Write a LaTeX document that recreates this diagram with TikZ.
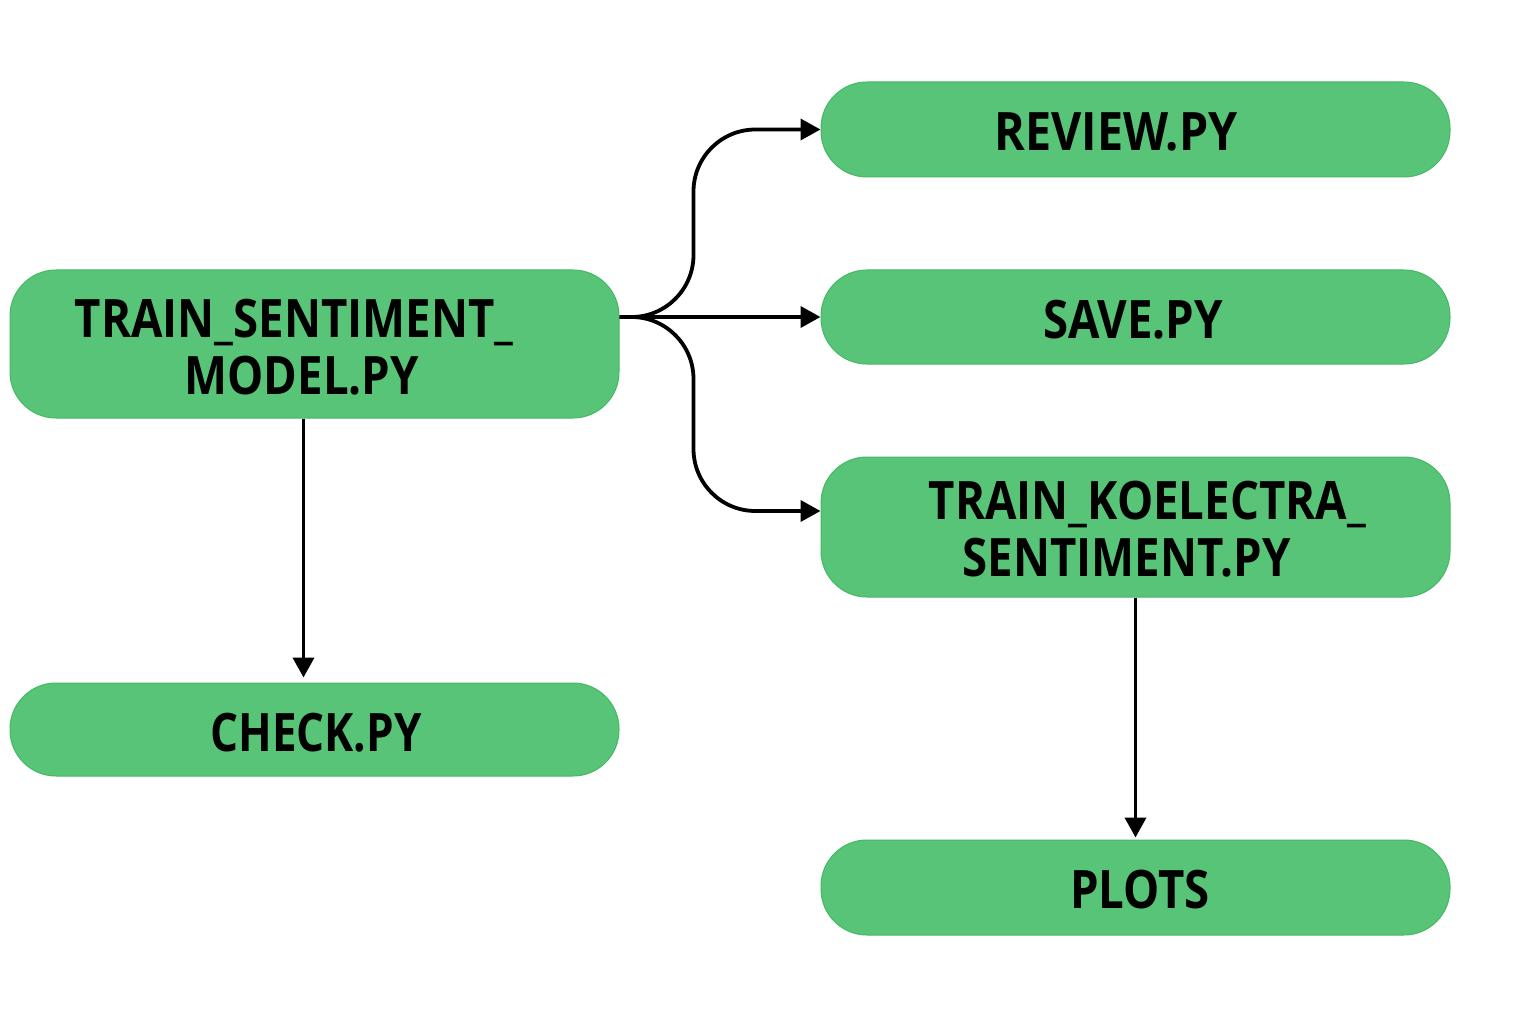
\documentclass[tikz,border=0pt]{standalone}
\usepackage{fontspec}
\setmainfont{Open Sans}
\usetikzlibrary{arrows.meta}
\definecolor{boxgreen}{HTML}{57C478}
\definecolor{boxedge}{HTML}{45B866}
\tikzset{
  box/.style={draw=boxedge, line width=1pt, fill=boxgreen, rounded corners=46pt, inner sep=0pt},
  lbl/.style={align=center, inner sep=0pt, font=\fontsize{53}{57}\selectfont\bfseries},
  arr/.style={line width=3.8pt, -{Triangle[length=20pt,width=21pt]}}
}
\newcommand{\sq}[2][0.86]{\scalebox{#1}[1]{#2}}
\begin{document}
\begin{tikzpicture}[x=1pt,y=-1pt]
\useasboundingbox (0,0) rectangle (1536,1024);
\node[box, minimum width=609pt, minimum height=148pt] (tsm) at (314.5,344) {};
\node[box, minimum width=609pt, minimum height=93pt] (check) at (314.5,729.5) {};
\node[box, minimum width=629pt, minimum height=95pt] (review) at (1135.5,129.5) {};
\node[box, minimum width=629pt, minimum height=94pt] (save) at (1135.5,317) {};
\node[box, minimum width=629pt, minimum height=140pt] (koel) at (1135.5,527) {};
\node[box, minimum width=629pt, minimum height=95pt] (plots) at (1135.5,887.5) {};

\node[lbl] (tsmT) at (294,355) {\sq{\begin{tabular}{@{}c@{}}TRAIN\_SENTIMENT\_\\\hspace{18pt}MODEL.PY\end{tabular}}};
\node[lbl] (checkT) at (316,733) {\sq[0.83]{CHECK.PY}};
\node[lbl] (reviewT) at (1116,132) {\sq[0.88]{REVIEW.PY}};
\node[lbl] (saveT) at (1133,320) {\sq{SAVE.PY}};
\node[lbl] (koelT) at (1137,537) {\sq{\begin{tabular}{@{}c@{}}\hspace{24pt}TRAIN\_KOELECTRA\_\\SENTIMENT.PY\kern24pt\end{tabular}}};
\node[lbl] (plotsT) at (1140,890) {\sq{PLOTS}};

\coordinate (start) at ([yshift=27pt]tsm.east);
\draw[arr, rounded corners=62pt] (start) -- ++(74,0) |- (review.west);
\draw[arr] (start) -- (save.west);
\draw[arr, rounded corners=62pt] (start) -- ++(74,0) |- ([yshift=16pt]koel.west);
\draw[arr] ([xshift=-11pt]tsm.south) -- ([xshift=-11pt,yshift=5pt]check.north);
\draw[arr] (koel.south) -- ([yshift=2pt]plots.north);
\end{tikzpicture}
\end{document}
